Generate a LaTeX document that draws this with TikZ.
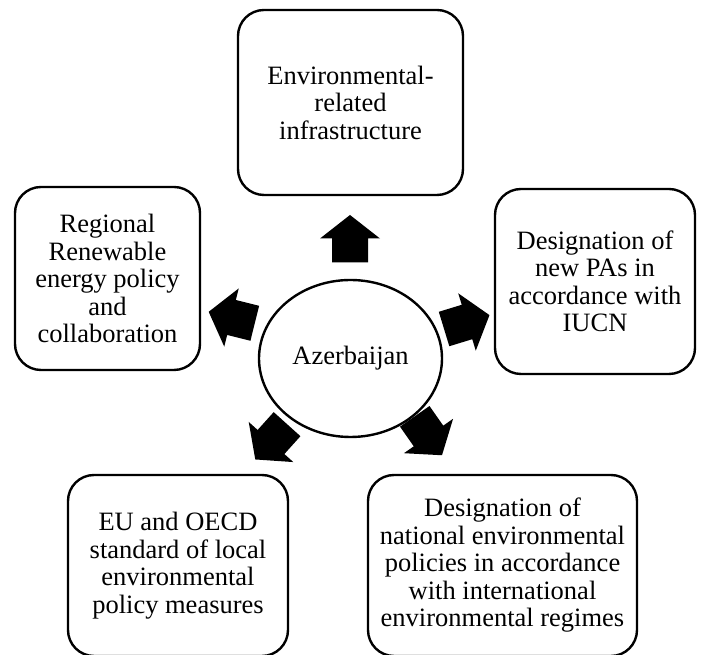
\documentclass[tikz,border=0pt]{standalone}
\usepackage{fontspec}
\setmainfont{Liberation Serif}
\usepackage{tikz}
\usetikzlibrary{positioning}
\usetikzlibrary{shapes.geometric}

\begin{document}
\begin{tikzpicture}[x = 1pt, y = 1pt,
every node/.style = {draw, line width = 2.4pt, align = center, inner sep = 0pt,
  font = \fontsize{26.5}{27.5}\selectfont},
  topic/.style = {rounded corners = 26pt},
  blockarrow/.pic = {\fill (-24,-18) -- (0,-18) -- (0,-30) -- (23.5,0)
    -- (0,30) -- (0,18) -- (-24,18) -- cycle;}
]
\useasboundingbox (0,0) rectangle (701,655);
\node[ellipse, minimum width = 183pt, minimum height = 157pt] (az) at (350.5,296.5) {Azerbaijan};
\node[topic, minimum width = 225pt, minimum height = 185pt] (infra) at (350.5,552.5)
    {Environmental-\\related\\infrastructure};
\node[topic, minimum width = 185pt, minimum height = 183pt] (renew) at (107.5,376.5)
    {Regional\\Renewable\\energy policy\\and\\collaboration};
\node[topic, minimum width = 200pt, minimum height = 185pt] (iucn) at (595,373.5)
    {Designation of\\new PAs in\\accordance with\\IUCN};
\node[topic, minimum width = 220pt, minimum height = 181pt] (oecd) at (178,89.5)
    {EU and OECD\\standard of local\\environmental\\policy measures};
\node[topic, minimum width = 269pt, minimum height = 181pt] (regimes) at (502.5,89.5)
    {Designation of\\national environmental\\policies in accordance\\with international\\environmental regimes};
% arrows out of the centre
\pic[rotate = 90] at (350,416.5) {blockarrow};
\pic[rotate = 166] at (231.5,337.5) {blockarrow};
\pic[rotate = 17] at (467,333) {blockarrow};
\pic[rotate = 228] at (271,213) {blockarrow};
\pic[rotate = 305] at (428.5,219) {blockarrow};
\end{tikzpicture}
\end{document}
